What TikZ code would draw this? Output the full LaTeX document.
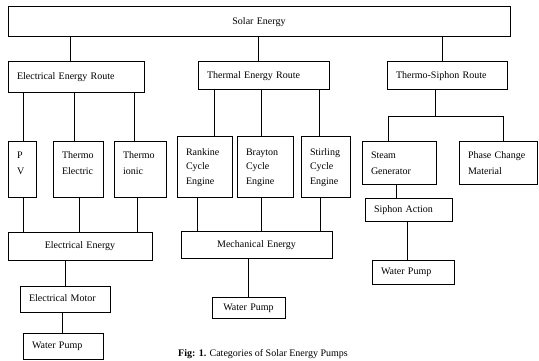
\documentclass[tikz,border=0pt]{standalone}
\usepackage{fontspec}
\setmainfont{Liberation Serif}
\hyphenpenalty=10000
\begin{document}
\begin{tikzpicture}[x=1pt,y=-1pt,
    blk/.style={draw, line width=1pt, inner xsep=9pt, inner ysep=5pt, align=left, text height=7pt, text depth=2pt, font=\fontsize{10}{17}\selectfont},
    tall/.style={blk, text height=11pt, text depth=#1},
    eng/.style={blk, font=\fontsize{10}{15}\selectfont, text height=13pt, text depth=37pt},
    link/.style={line width=0.9pt}]
    \useasboundingbox (0,0) rectangle (539,361);

    \node[blk, align=center, text width=484pt, minimum height=30pt] (solar) at (259,22) {Solar Energy};
    \node[blk, text width=118pt, minimum height=31pt] (elroute) at (76,77.5) {Electrical Energy Route}; \node[blk, text width=113pt, minimum height=28pt] (throute) at (263.5,76) {Thermal Energy Route}; \node[blk, text width=102pt, minimum height=28pt] (siroute) at (447,76) {Thermo-Siphon Route};

    \node[tall=34pt, text width=10pt] (pv) at (22,169.5) {P\\V}; \node[tall=34pt, text width=32pt] (thel) at (78,169.5) {Thermo\\Electric}; \node[tall=34pt, text width=34pt] (thion) at (140,169.5) {Thermo\\ionic};
    \node[eng, text width=37pt] (rank) at (204.5,167) {Rankine\\Cycle\\Engine}; \node[eng, text width=38pt] (bray) at (265,167) {Brayton\\Cycle\\Engine}; \node[eng, text width=31pt] (stir) at (325.5,167) {Stirling\\Cycle\\Engine};
    \node[tall=21pt, text width=56pt] (steam) at (399,163) {Steam\\Generator}; \node[tall=21pt, text width=60pt] (phase) at (498,163) {Phase Change\\Material};

    \node[blk, align=center, text width=126pt, minimum height=28pt] (elen) at (80,246) {Electrical Energy}; \node[blk, align=center, text width=133pt, minimum height=27pt] (mech) at (256.5,244.5) {Mechanical Energy}; \node[blk, text width=69pt, minimum height=23pt] (siphon) at (408.5,209.5) {Siphon Action};
    \node[blk, text width=72pt, minimum height=26pt] (elmot) at (65,299) {Electrical Motor}; \node[blk, align=center, text width=55pt, minimum height=21pt] (wpmech) at (248.5,307.5) {Water Pump}; \node[blk, text width=64pt, minimum height=24pt] (wpsiph) at (413,272) {Water Pump};
    \node[blk, text width=62pt, minimum height=26pt] (wpel) at (63,346) {Water Pump};

    \node[font=\fontsize{10}{12}\selectfont] (caption) at (263,354) {\textbf{Fig: 1.} Categories of Solar Energy Pumps};

    \coordinate (sl) at (388,116); \coordinate (sj) at (435,116); \coordinate (sr) at (503,116);

    \draw[link] (solar.south -| 70,0) to (elroute.north -| 70,0); \draw[link] (solar.south -| 258,0) to (throute.north -| 258,0); \draw[link] (solar.south -| 442,0) to (siroute.north -| 442,0);
    \draw[link] (elroute.south -| 23,0) to (pv.north -| 23,0); \draw[link] (elroute.south -| 74,0) to (thel.north -| 74,0); \draw[link] (elroute.south -| 134,0) to (thion.north -| 134,0);
    \draw[link] (throute.south -| 214,0) to (rank.north -| 214,0); \draw[link] (throute.south -| 261,0) to (bray.north -| 261,0); \draw[link] (throute.south -| 319,0) to (stir.north -| 319,0);
    \draw[link] (siroute.south -| sj) to (sj); \draw[link] (steam.north -| sl) -- (sl) -- (sr) -- (phase.north -| sr);
    \draw[link] (pv.south -| 23,0) to (elen.north -| 23,0); \draw[link] (thel.south -| 79,0) to (elen.north -| 79,0); \draw[link] (thion.south -| 137,0) to (elen.north -| 137,0);
    \draw[link] (rank.south -| 197,0) to (mech.north -| 197,0); \draw[link] (bray.south -| 261,0) to (mech.north -| 261,0); \draw[link] (stir.south -| 320,0) to (mech.north -| 320,0);
    \draw[link] (steam.south -| 396,0) to (siphon.north -| 396,0); \draw[link] (siphon.south -| 407,0) to (wpsiph.north -| 407,0);
    \draw[link] (elen.south -| 65,0) to (elmot.north -| 65,0); \draw[link] (elmot.south -| 62,0) to (wpel.north -| 62,0);
    \draw[link] (mech.south -| 248,0) to (wpmech.north -| 248,0);
\end{tikzpicture}
\end{document}
